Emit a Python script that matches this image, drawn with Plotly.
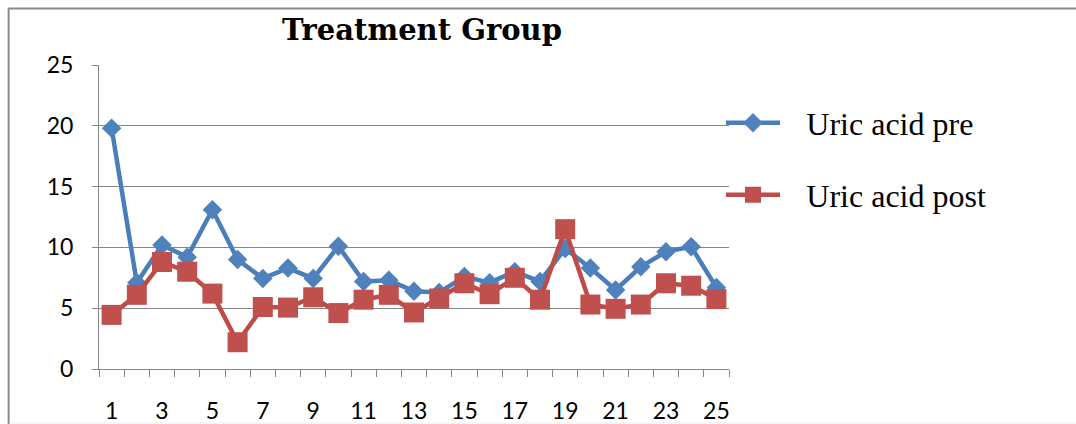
import plotly.graph_objects as go

patients = list(range(1, 26))
uric_pre = [19.8, 7.1, 10.2, 9.2, 13.1, 9.0, 7.45, 8.3, 7.45, 10.1, 7.2, 7.3, 6.4,
            6.3, 7.6, 7.1, 8.0, 7.2, 9.9, 8.3, 6.5, 8.4, 9.65, 10.05, 6.7]
uric_post = [4.45, 6.1, 8.8, 8.0, 6.2, 2.2, 5.1, 5.05, 5.9, 4.6, 5.7, 6.1, 4.65,
             5.8, 7.05, 6.15, 7.5, 5.7, 11.5, 5.3, 4.95, 5.3, 7.05, 6.85, 5.75]
x_labels = [str(v) for v in range(1, 26, 2)]
y_ticks = [0, 5, 10, 15, 20, 25]
series_names = ["Uric acid pre", "Uric acid post"]

W, H = 1076, 424
L, R, T, B = 98.5, 729.5, 65, 369
GAP = "\u00a0\u00a0\u2006"

fig = go.Figure()
fig.add_trace(go.Scatter(
    x=patients, y=uric_pre, name=GAP + series_names[0], mode="lines+markers",
    line=dict(color="#4A7EBB", width=4.5),
    marker=dict(symbol="diamond", size=15, color="#4F81BD", line=dict(width=0)),
    legend="legend"))
fig.add_trace(go.Scatter(
    x=patients, y=uric_post, name=GAP + series_names[1], mode="lines+markers",
    line=dict(color="#BE4B48", width=4.5),
    marker=dict(symbol="square", size=20, color="#C0504D", line=dict(width=0)),
    legend="legend2"))

def px_x(p):
    return (p - L) / (R - L)

def px_y(p):
    return (B - p) / (B - T)

legend_font = dict(family="Liberation Serif", size=32, color="#000000")
tick_font = dict(family="Lato", size=23, color="#000000")
fig.update_layout(
    width=W, height=H,
    margin=dict(l=L, r=W - R, t=T, b=H - B, pad=0, autoexpand=False),
    paper_bgcolor="white", plot_bgcolor="white",
    showlegend=True,
    title=dict(text="<b>Treatment Group</b>", x=422 / W, xanchor="center",
               xref="container", y=1 - 30 / H, yanchor="middle", yref="container",
               font=dict(family="DejaVu Serif", size=29, color="#000000")),
    legend=dict(x=721 / W, xref="container", y=1 - 123 / H, yref="container",
                xanchor="left", yanchor="middle", font=legend_font,
                bgcolor="rgba(0,0,0,0)", itemwidth=54),
    legend2=dict(x=721 / W, xref="container", y=1 - 195 / H, yref="container",
                 xanchor="left", yanchor="middle", font=legend_font,
                 bgcolor="rgba(0,0,0,0)", itemwidth=54),
    xaxis=dict(range=[0.5, 25.5], tickmode="array", tickvals=list(range(1, 26, 2)),
               ticktext=x_labels, ticks="", showgrid=False, zeroline=False,
               showline=True, linecolor="#868686", linewidth=1,
               ticklabelstandoff=21, automargin=False, tickfont=tick_font,
               minor=dict(tickmode="array", tickvals=[i + 0.5 for i in range(0, 26)],
                          ticks="outside", ticklen=7, tickcolor="#868686",
                          tickwidth=1, showgrid=False)),
    yaxis=dict(range=[0, 25], tickmode="array", tickvals=y_ticks,
               ticks="outside", ticklen=6, tickcolor="#868686", tickwidth=1,
               showgrid=True, gridcolor="#868686", gridwidth=1, zeroline=False,
               showline=True, linecolor="#868686", linewidth=1,
               ticklabelstandoff=14, automargin=False, tickfont=tick_font),
)

# chart-area frame
fig.add_shape(type="line", xref="paper", yref="paper",
              x0=px_x(7.5), x1=px_x(1080), y0=px_y(8.5), y1=px_y(8.5),
              line=dict(color="#8a8a8a", width=2))
fig.add_shape(type="line", xref="paper", yref="paper",
              x0=px_x(8), x1=px_x(8), y0=px_y(8), y1=px_y(430),
              line=dict(color="#8a8a8a", width=2))
fig.add_shape(type="line", xref="paper", yref="paper",
              x0=px_x(9), x1=px_x(1080), y0=px_y(423), y1=px_y(423),
              line=dict(color="#ececec", width=1))

fig.write_html(
    "out.html",
    config={"displayModeBar": False},
    post_script="document.body.style.margin='0';document.body.style.overflow='hidden';",
)
